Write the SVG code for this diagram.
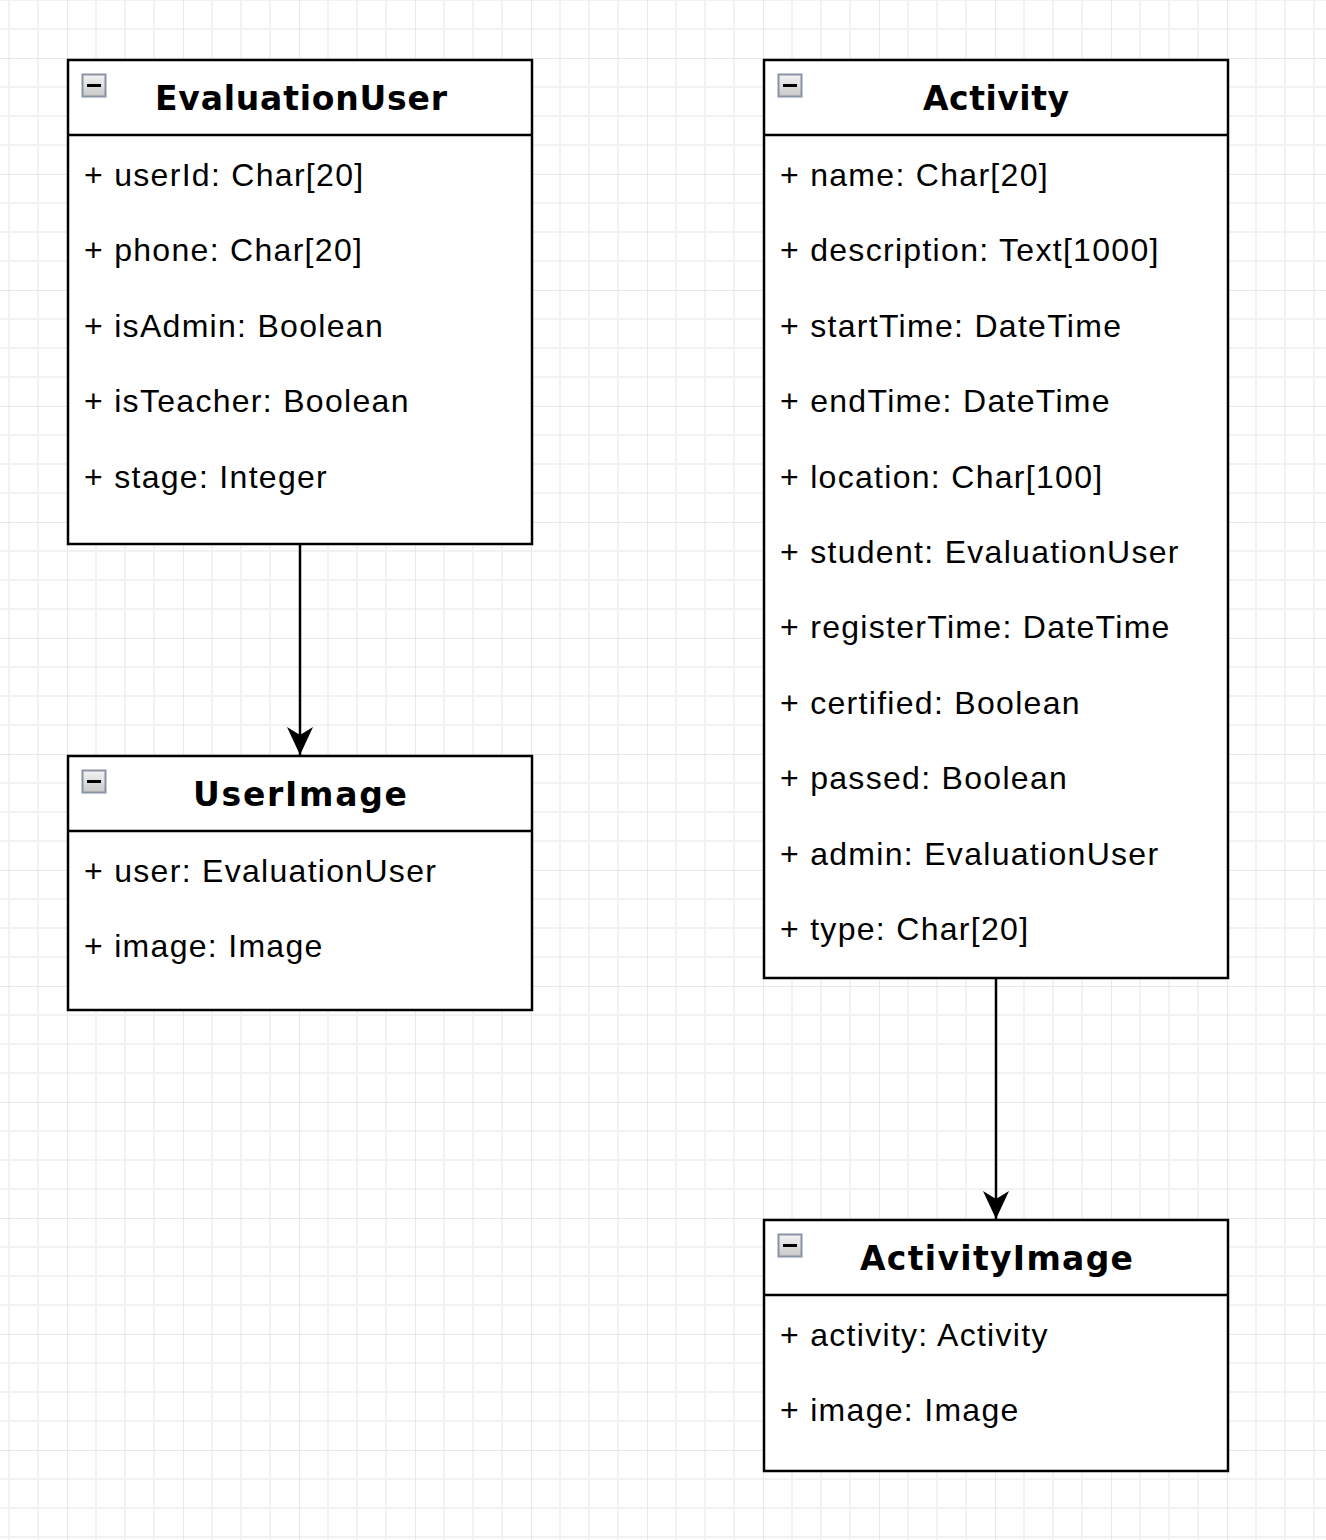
<svg xmlns="http://www.w3.org/2000/svg" width="1326" height="1540" viewBox="0 0 1326 1540">
<defs>
<pattern id="grid" x="67" y="58" width="116" height="116" patternUnits="userSpaceOnUse">
<path d="M29 0V116M58 0V116M87 0V116M0 29H116M0 58H116M0 87H116" stroke="#f2f2f2" stroke-width="2" fill="none"/>
<path d="M0 0V116M0 0H116" stroke="#e2e2e2" stroke-width="1.5" fill="none"/>
</pattern>
<linearGradient id="ig" x1="0" y1="0" x2="0" y2="1">
<stop offset="0" stop-color="#f4f4f4"/>
<stop offset="1" stop-color="#c8c8c8"/>
</linearGradient>
<marker id="arr" viewBox="0 0 28 28" markerWidth="28" markerHeight="28" refX="28" refY="14" orient="auto" markerUnits="userSpaceOnUse">
<path d="M0 1L28 14L0 27L8 14Z" fill="#000"/>
</marker>
<g id="icon">
<rect x="0.5" y="0.5" width="23" height="22" fill="url(#ig)" stroke="#8a93a3" stroke-width="2"/>
<rect x="5" y="10" width="14" height="3" fill="#000"/>
</g>
</defs>
<style>
.box{fill:#fff;stroke:#000;stroke-width:2.5}
.title{font-family:"DejaVu Sans",Verdana,sans-serif;font-weight:bold;font-size:33px;text-anchor:middle}
.attr{font-family:"Liberation Sans",Arial,sans-serif;font-size:32px;letter-spacing:1.3px}
.edge{stroke:#000;stroke-width:2.5;fill:none}
</style>
<rect width="1326" height="1540" fill="#fff"/>
<rect width="1326" height="1540" fill="url(#grid)"/>

<g id="EvaluationUser">
<rect class="box" x="68" y="60" width="464" height="484"/>
<line class="edge" x1="68" y1="135" x2="532" y2="135"/>
<use href="#icon" x="82" y="74"/>
<text class="title" x="301" y="110" textLength="292" lengthAdjust="spacing">EvaluationUser</text>
<text class="attr" x="84" y="186">+ userId: Char[20]</text>
<text class="attr" x="84" y="261">+ phone: Char[20]</text>
<text class="attr" x="84" y="337">+ isAdmin: Boolean</text>
<text class="attr" x="84" y="412">+ isTeacher: Boolean</text>
<text class="attr" x="84" y="488">+ stage: Integer</text>
</g>

<g id="UserImage">
<rect class="box" x="68" y="756" width="464" height="254"/>
<line class="edge" x1="68" y1="831" x2="532" y2="831"/>
<use href="#icon" x="82" y="770"/>
<text class="title" x="300" y="806" textLength="214" lengthAdjust="spacing">UserImage</text>
<text class="attr" x="84" y="882">+ user: EvaluationUser</text>
<text class="attr" x="84" y="957">+ image: Image</text>
</g>

<g id="Activity">
<rect class="box" x="764" y="60" width="464" height="918"/>
<line class="edge" x1="764" y1="135" x2="1228" y2="135"/>
<use href="#icon" x="778" y="74"/>
<text class="title" x="996" y="110" textLength="146" lengthAdjust="spacing">Activity</text>
<text class="attr" x="780" y="186">+ name: Char[20]</text>
<text class="attr" x="780" y="261">+ description: Text[1000]</text>
<text class="attr" x="780" y="337">+ startTime: DateTime</text>
<text class="attr" x="780" y="412">+ endTime: DateTime</text>
<text class="attr" x="780" y="488">+ location: Char[100]</text>
<text class="attr" x="780" y="563">+ student: EvaluationUser</text>
<text class="attr" x="780" y="638">+ registerTime: DateTime</text>
<text class="attr" x="780" y="714">+ certified: Boolean</text>
<text class="attr" x="780" y="789">+ passed: Boolean</text>
<text class="attr" x="780" y="865">+ admin: EvaluationUser</text>
<text class="attr" x="780" y="940">+ type: Char[20]</text>
</g>

<g id="ActivityImage">
<rect class="box" x="764" y="1220" width="464" height="251"/>
<line class="edge" x1="764" y1="1295" x2="1228" y2="1295"/>
<use href="#icon" x="778" y="1234"/>
<text class="title" x="996.5" y="1270" textLength="273" lengthAdjust="spacing">ActivityImage</text>
<text class="attr" x="780" y="1346">+ activity: Activity</text>
<text class="attr" x="780" y="1421">+ image: Image</text>
</g>

<g id="connectors">
<line class="edge" x1="300" y1="545" x2="300" y2="755" marker-end="url(#arr)"/>
<line class="edge" x1="996" y1="979" x2="996" y2="1219" marker-end="url(#arr)"/>
</g>
</svg>
